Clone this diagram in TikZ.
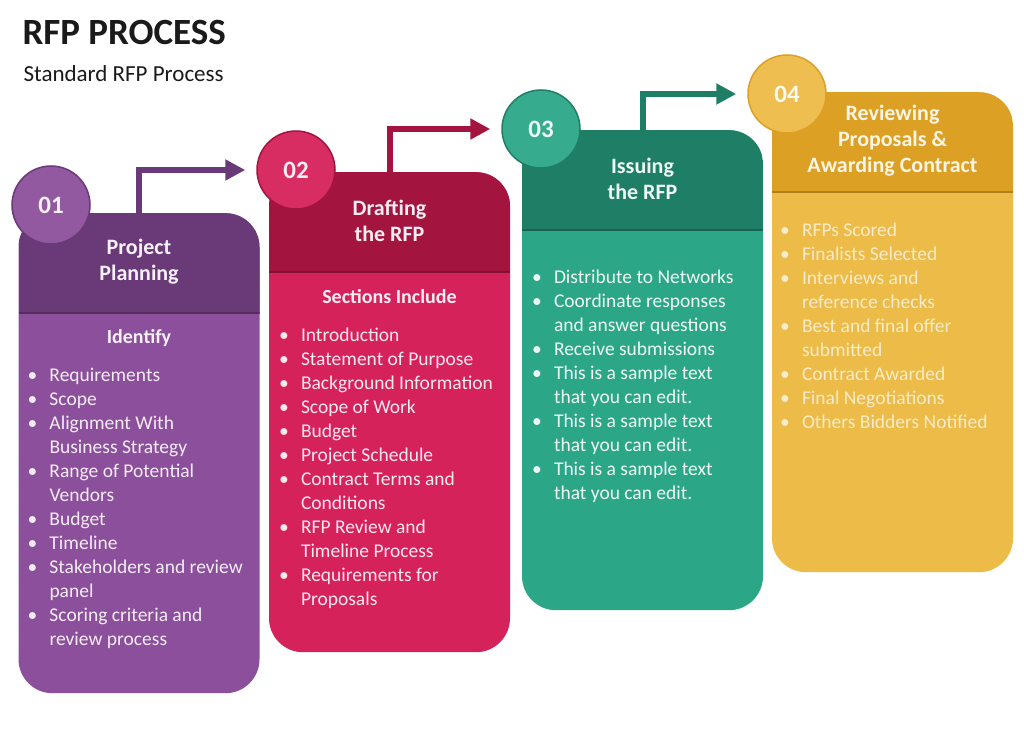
\documentclass[tikz,border=0pt]{standalone}
\usepackage{fontspec}
\setmainfont{Carlito}
\usepackage{tikz}
\usepackage{xcolor}
\usetikzlibrary{arrows.meta,positioning}

\definecolor{plumdark}{HTML}{6A3A78}
\definecolor{plumbody}{HTML}{8C4F9B}
\definecolor{crimdark}{HTML}{A3143F}
\definecolor{crimbody}{HTML}{D6225A}
\definecolor{tealdark}{HTML}{1F7E66}
\definecolor{tealbody}{HTML}{2BA787}
\definecolor{golddark}{HTML}{DCA024}
\definecolor{goldbody}{HTML}{EDBB47}
\definecolor{inkblack}{HTML}{1A1A1A}

\tikzset{
  colbox/.style={rectangle, rounded corners=34pt, minimum width=241pt,
    minimum height=480pt, inner sep=0pt,
    path picture={
      \fill[#1, sharp corners] (path picture bounding box.north west)
        rectangle ([yshift=-100pt]path picture bounding box.north east);
      \draw[#1!80!black, line width=2pt, sharp corners]
        ([yshift=-100pt]path picture bounding box.north west)
        -- ([yshift=-100pt]path picture bounding box.north east);}},
  numdot/.style={circle, minimum size=78pt, inner sep=0pt, line width=1.5pt,
    font=\bfseries\fontsize{25}{30}\selectfont},
  steptitle/.style={align=center, font=\bfseries\fontsize{22}{26}\selectfont},
  subhead/.style={font=\bfseries\fontsize{20}{24}\selectfont},
  listtext/.style={anchor=north west, inner sep=0pt,
    font=\fontsize{19.5}{24}\selectfont},
  flow/.style={line width=6pt, -{Triangle[length=20pt,width=20pt]},
    shorten >=11pt}
}

\begin{document}
\begin{tikzpicture}[x=1pt,y=-1pt]
    \useasboundingbox[fill=white] (0,0) rectangle (1024,743);

    % Heading
    \node[anchor=west, text=inkblack, font=\bfseries\fontsize{37}{44}\selectfont]
        (title) at (19,32) {RFP PROCESS};
    \node[anchor=west, text=inkblack, font=\fontsize{23}{28}\selectfont]
        (subtitle) at (20,74) {Standard RFP Process};

    % Draw the four step columns with their number circles
    \foreach \i/\cx/\ty/\nx/\ny/\dk/\bd in {
        1/139/213/51/205/plumdark/plumbody,
        2/389.5/172/296/170/crimdark/crimbody,
        3/642.5/130/541/129/tealdark/tealbody,
        4/892.5/92/787/94/golddark/goldbody} {
        \node[colbox=\dk, fill=\bd, anchor=north] (box\i) at (\cx,\ty) {};
        \node[numdot, fill=\bd!95!white, draw=\dk, text=white!92!\bd]
            (c\i) at (\nx,\ny) {0\i};
    }

    % Step titles
    \node[steptitle, text=white!92!plumbody] (t1) at ([yshift=-49pt]box1.north)
        {Project\\Planning};
    \node[steptitle, text=white!92!crimbody] (t2) at ([yshift=-49pt]box2.north)
        {Drafting\\the RFP};
    \node[steptitle, text=white!92!tealbody] (t3) at ([yshift=-49pt]box3.north)
        {Issuing\\the RFP};
    \node[steptitle, text=white!85!goldbody] (t4) at ([yshift=-49pt]box4.north)
        {Reviewing\\Proposals \&\\Awarding Contract};

    % Sub headings
    \node[subhead, text=white!92!plumbody] (s1) at ([yshift=-125pt]box1.north) {Identify};
    \node[subhead, text=white!92!crimbody] (s2) at ([yshift=-125pt]box2.north) {Sections Include};

    % Bullet lists
    \node[listtext, text=white!90!plumbody] (l1)
        at ([xshift=9pt,yshift=-151pt]box1.north west) {%
        \begin{tabular}{@{}p{22pt}@{}l@{}}
        \textbullet & Requirements\\
        \textbullet & Scope\\
        \textbullet & Alignment With\\
                    & Business Strategy\\
        \textbullet & Range of Potential\\
                    & Vendors\\
        \textbullet & Budget\\
        \textbullet & Timeline\\
        \textbullet & Stakeholders and review\\
                    & panel\\
        \textbullet & Scoring criteria and\\
                    & review process
        \end{tabular}};
    \node[listtext, text=white!90!crimbody] (l2)
        at ([xshift=10pt,yshift=-152pt]box2.north west) {%
        \begin{tabular}{@{}p{22pt}@{}l@{}}
        \textbullet & Introduction\\
        \textbullet & Statement of Purpose\\
        \textbullet & Background Information\\
        \textbullet & Scope of Work\\
        \textbullet & Budget\\
        \textbullet & Project Schedule\\
        \textbullet & Contract Terms and\\
                    & Conditions\\
        \textbullet & RFP Review and\\
                    & Timeline Process\\
        \textbullet & Requirements for\\
                    & Proposals
        \end{tabular}};
    \node[listtext, text=white!92!tealbody] (l3)
        at ([xshift=10pt,yshift=-136pt]box3.north west) {%
        \begin{tabular}{@{}p{22pt}@{}l@{}}
        \textbullet & Distribute to Networks\\
        \textbullet & Coordinate responses\\
                    & and answer questions\\
        \textbullet & Receive submissions\\
        \textbullet & This is a sample text\\
                    & that you can edit.\\
        \textbullet & This is a sample text\\
                    & that you can edit.\\
        \textbullet & This is a sample text\\
                    & that you can edit.
        \end{tabular}};
    \node[listtext, text=white!72!goldbody] (l4)
        at ([xshift=8pt,yshift=-127pt]box4.north west) {%
        \begin{tabular}{@{}p{22pt}@{}l@{}}
        \textbullet & RFPs Scored\\
        \textbullet & Finalists Selected\\
        \textbullet & Interviews and\\
                    & reference checks\\
        \textbullet & Best and final offer\\
                    & submitted\\
        \textbullet & Contract Awarded\\
        \textbullet & Final Negotiations\\
        \textbullet & Others Bidders Notified
        \end{tabular}};

    % Arrows from each step to the next one
    \draw[flow, plumdark] (box1.north) |- (c2);
    \draw[flow, crimdark] (box2.north) |- (c3);
    \draw[flow, tealdark] (box3.north) |- (c4);
\end{tikzpicture}
\end{document}
